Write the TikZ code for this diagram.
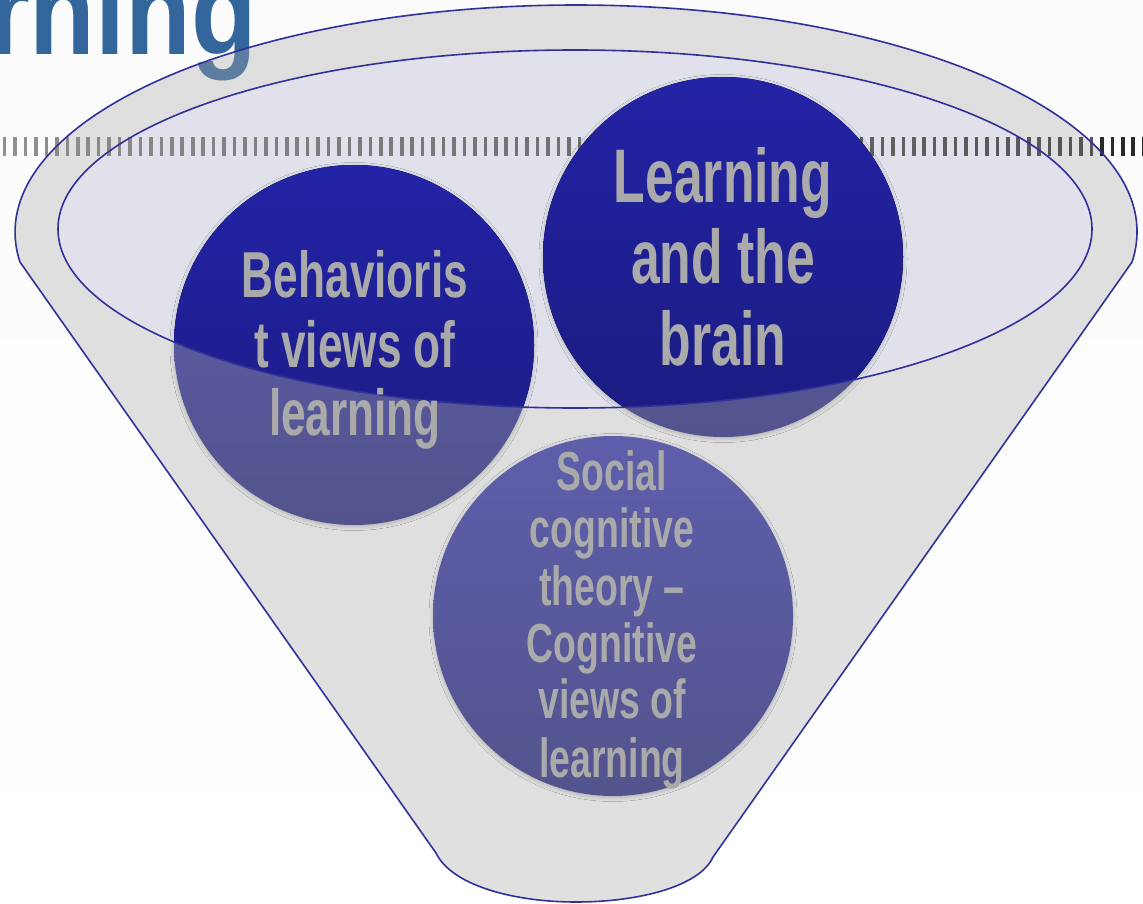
\documentclass[tikz,border=0pt]{standalone}
\usepackage{fontspec}
\newfontfamily\agency[FakeStretch=0.68]{Liberation Sans}
\newfontfamily\titlefont[FakeStretch=0.86]{Liberation Sans}
\usetikzlibrary{calc,shadows.blur}

\definecolor{bgtop}{HTML}{FBFBFB}
\definecolor{bgmid}{HTML}{F0F0F0}
\definecolor{titleblue}{HTML}{33669A}
\definecolor{funnelfill}{HTML}{A9A9A9}
\definecolor{innerfill}{HTML}{E1E1EB}
\definecolor{rim}{HTML}{31319B}
\definecolor{deeptop}{HTML}{2323A6}
\definecolor{deepbot}{HTML}{1B1B80}
\definecolor{mutetop}{HTML}{5E5EAC}
\definecolor{mutebot}{HTML}{53538D}
\definecolor{label}{HTML}{AAAAAA}

\tikzset{
  rimline/.style={draw=rim, line width=1.6pt},
  bubble/.style={circle, minimum size=360pt, inner sep=0pt,
    top color=mutetop, bottom color=mutebot,
    blur shadow={shadow xshift=0pt, shadow yshift=-1.5pt, shadow blur radius=4pt, shadow opacity=22}},
  deep/.style={top color=deeptop, bottom color=deepbot},
  bigtext/.style={font=\agency\bfseries\fontsize{#1}{#1}\selectfont,
    text=label, inner sep=0pt, anchor=base},
}

\begin{document}
\begin{tikzpicture}[x=1pt,y=-1pt]
\useasboundingbox (0,0) rectangle (1143,904);
\clip (0,0) rectangle (1143,904);

% backdrop
\shade[top color=bgtop, middle color=bgmid, bottom color=white] (0,0) rectangle (1143,904);

% heading, cut at the top edge
\node[font=\titlefont\bfseries\fontsize{125}{125}\selectfont, text=titleblue,
      inner sep=0pt, anchor=base east] (title) at (257,55) {rning};

% funnel geometry
\coordinate (oc) at (576,232);
\coordinate (ic) at (575,229);
\coordinate (kl) at ($(oc)+(187.6:561pt and 227pt)$);
\coordinate (kr) at ($(oc)+(-7.6:561pt and 227pt)$);
\coordinate (bl) at (436,853);
\coordinate (br) at (713,857);
\coordinate (bm) at (576,902);

% funnel body
\path[fill=funnelfill, fill opacity=0.35]
  (kl) -- (bl) .. controls (452,886) and (515,902) .. (bm)
  .. controls (640,902) and (700,886) .. (br) -- (kr)
  arc[start angle=-7.6, end angle=187.6, x radius=561pt, y radius=227pt] -- cycle;

% funnel mouth
\fill[innerfill] (ic) ellipse[x radius=517pt, y radius=179pt];

% striped band, darkening towards the right
\foreach \i in {0,...,109} {
  \pgfmathsetmacro\sx{2.8+10.45*\i}
  \pgfmathtruncatemacro\dk{\sx<1090 ? 48+(\sx/1090)*25 : 92}
  \fill[black!\dk, opacity=0.9] (\sx,137) rectangle ++(3.6,19);
}

% bubbles
\node[bubble] (beh) at (354,345) {};
\node[bubble] (brain) at (723,257) {};
\node[bubble] (soc) at (613,616) {};

% deeper tone inside the mouth
\begin{scope}
  \clip (ic) ellipse[x radius=517pt, y radius=179pt];
  \fill[deep] (beh.center) circle[radius=180pt];
  \fill[deep] (brain.center) circle[radius=180pt];
\end{scope}

% outlines
\draw[rimline] (ic) ellipse[x radius=517pt, y radius=179pt];
\draw[rimline, line join=round]
  (kl) -- (bl) .. controls (452,886) and (515,902) .. (bm)
  .. controls (640,902) and (700,886) .. (br) -- (kr)
  arc[start angle=-7.6, end angle=187.6, x radius=561pt, y radius=227pt];

% labels
\node[bigtext=65] (beh1) at (355,297) {Behavioris};
\node[bigtext=65] (beh2) at (355,367) {t views of};
\node[bigtext=65] (beh3) at (355,435) {learning};

\node[bigtext=76] (brain1) at (723,203) {Learning};
\node[bigtext=76] (brain2) at (723,283) {and the};
\node[bigtext=76] (brain3) at (723,365) {brain};

\node[bigtext=55] (soc1) at (612,490) {Social};
\node[bigtext=55] (soc2) at (612,547) {cognitive};
\node[bigtext=55] (soc3) at (612,605) {theory –};
\node[bigtext=55] (soc4) at (612,662) {Cognitive};
\node[bigtext=55] (soc5) at (612,718) {views of};
\node[bigtext=55] (soc6) at (612,777) {learning};
\end{tikzpicture}
\end{document}
